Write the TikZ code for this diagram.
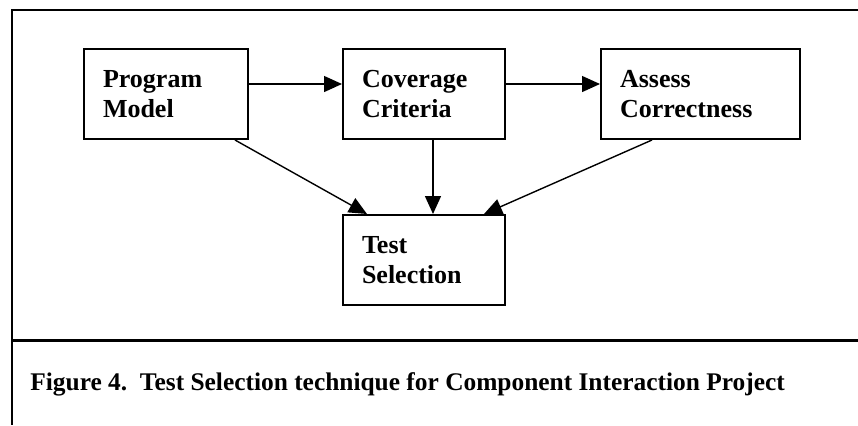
\documentclass[tikz,border=0pt]{standalone}
\usepackage{fontspec}
\setmainfont{Liberation Serif}
\usepackage{tikz}
\usetikzlibrary{arrows.meta, positioning}

\begin{document}
\begin{tikzpicture}[
    x=0.5pt, y=-0.5pt,
    every node/.style={font=\bfseries\fontsize{13}{15}\selectfont},
    box/.style={draw, line width=1pt, minimum height=45pt, inner xsep=9.5pt, text width=#1, align=left},
    arrow/.style={-{Triangle[length=9pt, width=8pt]}, line width=0.7pt},
    rule/.style={line width=1.2pt},
]
\useasboundingbox (0,0) rectangle (858,425);

% === Frame ===
\draw[rule] (858,10) -- (12,10) -- (12,425);
\draw[rule, line width=1.5pt] (12,340) -- (858,340);

% === Boxes ===
\node[box=63pt, anchor=north west] (pm) at (83,48) {Program\\Model};
\node[box=62pt, right=46.5pt of pm] (cc) {Coverage\\Criteria};
\node[box=80.5pt, right=47pt of cc] (ac) {Assess\\Correctness};
\node[box=62pt, below=37pt of cc] (ts) {Test\\Selection};

\draw[arrow] ([yshift=5pt]pm.east) -- ([yshift=5pt]cc.west);
\draw[arrow] ([yshift=5pt]cc.east) -- ([yshift=5pt]ac.west);
\draw[arrow] ([xshift=4.5pt]cc.south) -- ([xshift=4.5pt]ts.north);
\draw[arrow] ([xshift=-7pt]pm.south east) -- ([xshift=12.5pt]ts.north west);
\draw[arrow] ([xshift=26pt]ac.south west) -- ([xshift=-11pt]ts.north east);

% === Caption ===
\node[anchor=base west, inner sep=0pt, font=\bfseries\fontsize{12.7}{15}\selectfont] (cap) at (30,390)
    {Figure 4.\ \ Test Selection technique for Component Interaction Project};

\end{tikzpicture}
\end{document}
